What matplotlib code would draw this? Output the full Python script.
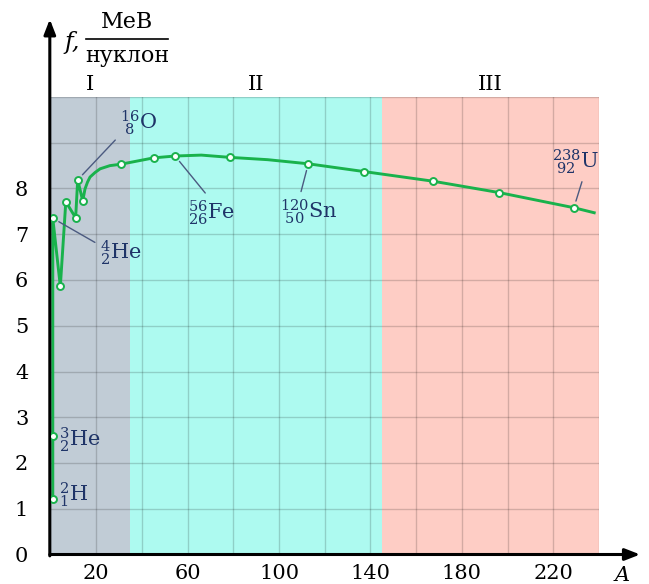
import matplotlib
matplotlib.use("Agg")
import matplotlib.pyplot as plt

plt.rcParams["font.family"] = "DejaVu Serif"
plt.rcParams["mathtext.fontset"] = "dejavuserif"

# mass number A and binding energy per nucleon f (MeV)
# first three points are drawn squeezed at the start of the axis
a_vals = [1.0, 1.0, 1.0, 4.3, 6.7, 11.0, 11.9, 14.1, 15.1, 16.2, 17.3, 19.5, 21.7, 26.0,
          30.7, 45.2, 54.5, 66.0, 78.6, 95.0, 112.8, 137.2, 167.3, 196.4, 229.0, 237.9]
f_vals = [1.22, 2.58, 7.35, 5.86, 7.71, 7.36, 8.19, 7.73, 7.99, 8.14, 8.25, 8.35, 8.43, 8.50,
          8.53, 8.67, 8.71, 8.73, 8.68, 8.63, 8.54, 8.37, 8.16, 7.91, 7.58, 7.47]
# which of the points above carry a circle marker
marked = [0, 1, 2, 3, 4, 5, 6, 7, 14, 15, 16, 18, 20, 21, 22, 23, 24]

regions = [(0, 35, "I", "#c1ccd6"), (35, 145, "II", "#adfaf0"), (145, 240, "III", "#fecdc5")]

x_ticks = [20, 60, 100, 140, 180, 220]
y_ticks = [0, 1, 2, 3, 4, 5, 6, 7, 8]

green = "#19b24c"
navy = "#1f3468"
lead = "#4b5a80"

fig = plt.figure(figsize=(6.49, 5.84), dpi=100)
ax = fig.add_axes([50.5 / 649, 1 - 554.5 / 584, 548.5 / 649, 457.5 / 584])
ax.set_xlim(0, 240)
ax.set_ylim(0, 10)

for x0, x1, name, col in regions:
    ax.axvspan(x0, x1, color=col, zorder=0, lw=0)
    ax.text((x0 + x1) / 2, 10.28, name, ha="center", va="center", fontsize=15)

for gx in range(20, 241, 20):
    ax.axvline(gx, color="k", alpha=0.17, lw=1, zorder=1)
for gy in range(1, 11):
    ax.axhline(gy, color="k", alpha=0.17, lw=1, zorder=1)

ax.plot(a_vals, f_vals, color=green, lw=2.1, zorder=3, solid_joinstyle="round")
ax.plot([a_vals[i] for i in marked], [f_vals[i] for i in marked], "o", ls="none",
        ms=5, mfc="white", mec=green, mew=1.4, zorder=4)

for s in ax.spines.values():
    s.set_visible(False)
ax.set_xticks(x_ticks)
ax.set_yticks(y_ticks)
ax.tick_params(length=0, labelsize=15, pad=7)
ax.tick_params(axis="y", pad=16)

# axes with arrows
ax.annotate("", xy=(258, 0), xytext=(-0.3, 0), xycoords="data",
            arrowprops=dict(arrowstyle="-|>,head_length=0.9,head_width=0.35",
                            lw=2.2, color="k", shrinkA=0, shrinkB=0), annotation_clip=False)
ax.annotate("", xy=(-0.3, 11.7), xytext=(-0.3, -0.03), xycoords="data",
            arrowprops=dict(arrowstyle="-|>,head_length=0.9,head_width=0.35",
                            lw=2.2, color="k", shrinkA=0, shrinkB=0), annotation_clip=False)
ax.text(250, -0.45, "A", style="italic", fontsize=15, ha="center", va="center", clip_on=False)

# axis label f, MeV / nucleon
fig.text(72 / 649, 1 - 43 / 584, "f,", style="italic", fontsize=17, ha="center", va="center")
fig.text(127 / 649, 1 - 22 / 584, "МеВ", fontsize=16, ha="center", va="center")
fig.text(127 / 649, 1 - 56 / 584, "нуклон", fontsize=16, ha="center", va="center")
fig.add_artist(plt.Line2D([86 / 649, 168 / 649], [1 - 39 / 584, 1 - 39 / 584], color="k", lw=1.2))

# nuclide labels
labels = [
    (6, r"${}^{16}_{\ 8}\mathrm{O}$", (30.4, 9.45), (0, 0.05)),
    (2, r"${}^{4}_{2}\mathrm{He}$", (21.7, 6.6), (0, 0.75)),
    (16, r"${}^{56}_{26}\mathrm{Fe}$", (60.2, 7.48), (0.45, 1)),
    (20, r"${}^{120}_{\ 50}\mathrm{Sn}$", (100.4, 7.5), (0.34, 1)),
    (24, r"${}^{238}_{\ 92}\mathrm{U}$", (219.5, 8.58), (0.67, 0)),
]
for idx, txt, pos, rp in labels:
    ax.annotate(txt, xy=(a_vals[idx], f_vals[idx]), xytext=pos, fontsize=15, color=navy,
                ha="left", va="center", zorder=5,
                arrowprops=dict(arrowstyle="-", color=lead, lw=1, relpos=rp,
                                shrinkA=2, shrinkB=5))
ax.text(3.7, 2.51, r"${}^{3}_{2}\mathrm{He}$", fontsize=15, color=navy, ha="left", va="center", zorder=5)
ax.text(3.9, 1.3, r"${}^{2}_{1}\mathrm{H}$", fontsize=15, color=navy, ha="left", va="center", zorder=5)

fig.savefig("out.png", dpi=100)
